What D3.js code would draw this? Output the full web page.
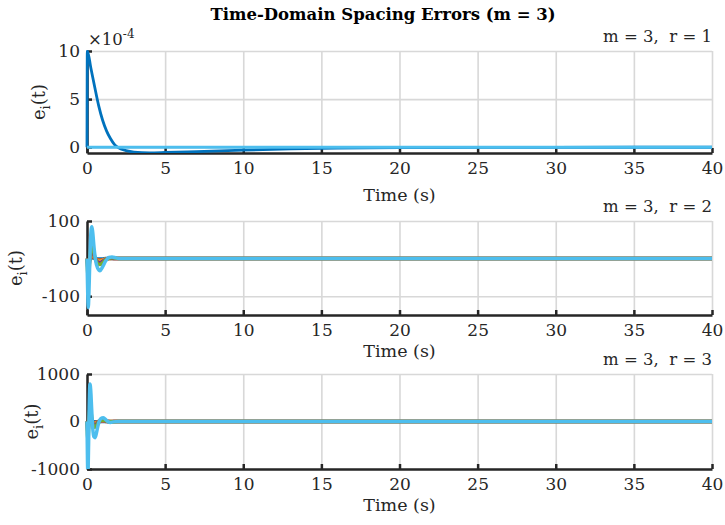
<!DOCTYPE html>
<html>
<head>
  <meta charset="utf-8">
  <title>Time-Domain Spacing Errors (m = 3)</title>
  <script src="https://d3js.org/d3.v7.min.js"></script>
  <style>
    body { margin: 0; background: #fff; }
    text { font-family: "DejaVu Serif", serif; fill: #262626; }
  </style>
</head>
<body>
<svg class="chart"></svg>
<script>

// ---- data ----
const xTicks = [0, 5, 10, 15, 20, 25, 30, 35, 40];
const colors = ["#0072BD", "#D95319", "#EDB120", "#7E2F8E", "#77AC30", "#4DBEEE"];

// r = 1, values in units of 1e-4
const time1 = [0, 0.02, 0.25, 0.5, 0.75, 1, 1.25, 1.5, 1.75, 2, 2.5, 3, 4, 5, 7, 10, 13, 16, 20, 25, 30, 40];
const r1Blue = [0, 10, 8.2, 6.2, 4.3, 2.8, 1.7, 0.9, 0.3, -0.05, -0.35, -0.5, -0.58, -0.55, -0.45, -0.3, -0.18, -0.1, -0.05, -0.02, -0.01, 0];
const r1Cyan = [0, 0, 0, 0, 0, 0, 0, 0, 0, 0, 0, 0, 0, 0, 0, 0, 0, 0, 0, 0, 0, 0];
const yTicks1 = [0, 5, 10];

// r = 2
const time2 = [0, 0.04, 0.08, 0.12, 0.17, 0.22, 0.27, 0.31, 0.36, 0.45, 0.55, 0.68, 0.83, 1.0, 1.2, 1.4, 1.6, 1.85, 2.1, 2.5, 3, 40];
const r2Blue   = [0, -2, -3, -2, 0, 1, 2, 2, 2, 1, 0, -1, -1, -1, 0, 0, 0, 0, 0, 0, 0, 0];
const r2Orange = [0, -6, -10, -7, -1, 4, 7, 8, 6, 2, -1, -3, -4, -3, -1, 0, 0, 0, 0, 0, 0, 0];
const r2Yellow = [0, -12, -20, -15, -3, 8, 14, 16, 13, 5, -1, -6, -7, -5, -1, 0, 1, 0, 0, 0, 0, 0];
const r2Purple = [0, -20, -32, -24, -5, 12, 22, 26, 22, 8, -2, -9, -11, -7, -2, 1, 1, 0, 0, 0, 0, 0];
const r2Green  = [0, -35, -55, -40, -8, 20, 35, 42, 35, 14, -3, -13, -16, -11, -3, 1, 2, 1, 0, 0, 0, 0];
const r2Cyan   = [0, -80, -130, -95, -20, 45, 78, 85, 72, 30, -5, -25, -32, -22, -6, 3, 4, 2, 0, 0, 0, 0];
const yTicks2 = [-100, 0, 100];

// r = 3
const time3 = [0, 0.03, 0.06, 0.1, 0.14, 0.19, 0.24, 0.3, 0.37, 0.44, 0.51, 0.6, 0.7, 0.82, 0.95, 1.05, 1.2, 1.35, 1.5, 1.7, 2.0, 2.5, 40];
const r3Blue   = [0, -16, -22, -10, 6, 16, 13, 5, -3, -6, -7, -5, -2, 1, 2, 2, 1, 0, 0, 0, 0, 0, 0];
const r3Orange = [0, -48, -66, -30, 18, 47, 39, 15, -9, -19, -20, -15, -5, 2, 5, 5, 2, 0, -1, 0, 0, 0, 0];
const r3Yellow = [0, -95, -130, -60, 36, 95, 78, 30, -18, -38, -41, -30, -11, 4, 9, 9, 5, -1, -2, -1, 0, 0, 0];
const r3Purple = [0, -160, -220, -100, 60, 160, 130, 50, -30, -64, -68, -50, -18, 6, 15, 16, 8, -1, -4, -2, 0, 0, 0];
const r3Green  = [0, -280, -390, -180, 100, 280, 230, 90, -50, -110, -120, -85, -30, 10, 26, 27, 14, -2, -7, -3, 0, 0, 0];
const r3Cyan   = [0, -800, -1100, -500, 300, 790, 650, 250, -150, -320, -340, -250, -90, 30, 75, 78, 40, -5, -20, -8, 0, 0, 0];
const yTicks3 = [-1000, 0, 1000];

// ---- layout ----
const W = 725, H = 525;
const left = 87, right = 712;

const panels = [
  { top: 51, bottom: 153, yDomain: [-0.6, 10], yTicks: yTicks1, time: time1,
    series: [[colors[0], r1Blue], [colors[5], r1Cyan]], lw: 2.8,
    sub: "m = 3,\u00a0\u00a0r = 1", labelX: 45, xlabOff: 48, exponent: true },
  { top: 221, bottom: 315, yDomain: [-150, 100], yTicks: yTicks2, time: time2,
    series: [[colors[0], r2Blue], [colors[1], r2Orange], [colors[2], r2Yellow],
             [colors[3], r2Purple], [colors[4], r2Green], [colors[5], r2Cyan]], lw: 3.5,
    sub: "m = 3,\u00a0\u00a0r = 2", labelX: 22, xlabOff: 42 },
  { top: 374, bottom: 469, yDomain: [-1000, 1000], yTicks: yTicks3, time: time3,
    series: [[colors[0], r3Blue], [colors[1], r3Orange], [colors[2], r3Yellow],
             [colors[3], r3Purple], [colors[4], r3Green], [colors[5], r3Cyan]], lw: 3.5,
    sub: "m = 3,\u00a0\u00a0r = 3", labelX: 38, xlabOff: 42 }
];

const svg = d3.select(".chart")
  .attr("width", W)
  .attr("height", H)
  .style("background", "#fff");

svg.append("text")
  .attr("x", 383)
  .attr("y", 20)
  .attr("text-anchor", "middle")
  .style("font-size", "16.5px")
  .style("font-weight", "bold")
  .style("fill", "#000")
  .text("Time-Domain Spacing Errors (m = 3)");

const x = d3.scaleLinear().domain([0, 40]).range([left, right]);

panels.forEach((p, i) => {
  const y = d3.scaleLinear().domain(p.yDomain).range([p.bottom, p.top]);
  const g = svg.append("g");
  const h = p.bottom - p.top;

  // grid
  g.append("g")
    .attr("transform", `translate(0,${p.bottom})`)
    .call(d3.axisBottom(x).tickValues(xTicks).tickSize(-h).tickFormat(""))
    .call(a => a.select(".domain").remove())
    .selectAll("line").attr("stroke", "#d8d8d8").attr("stroke-width", 1.6);
  g.append("g")
    .attr("transform", `translate(${left},0)`)
    .call(d3.axisLeft(y).tickValues(p.yTicks).tickSize(-(right - left)).tickFormat(""))
    .call(a => a.select(".domain").remove())
    .selectAll("line").attr("stroke", "#d8d8d8").attr("stroke-width", 1.6);

  // axes (ticks point inward)
  const xa = g.append("g")
    .attr("transform", `translate(0,${p.bottom})`)
    .call(d3.axisBottom(x).tickValues(xTicks).tickSizeInner(-5).tickSizeOuter(0).tickPadding(9)
      .tickFormat(d => String(d)));
  const ya = g.append("g")
    .attr("transform", `translate(${left},0)`)
    .call(d3.axisLeft(y).tickValues(p.yTicks).tickSizeInner(-5).tickSizeOuter(0).tickPadding(7)
      .tickFormat(d => String(d)));
  [xa, ya].forEach(a => {
    a.select(".domain").attr("stroke", "#262626").attr("stroke-width", 2.5);
    a.selectAll(".tick line").attr("stroke", "#262626").attr("stroke-width", 2.5);
    a.selectAll("text").style("font-size", "17px").style("font-family", "DejaVu Serif").attr("fill", "#262626");
  });

  // series
  g.append("clipPath").attr("id", "clip" + i)
    .append("rect")
    .attr("x", left - 2).attr("y", p.top - 1)
    .attr("width", right - left + 3).attr("height", h + 1);

  const line = d3.line()
    .x((d, k) => x(p.time[k]))
    .y(d => y(d))
    .curve(d3.curveMonotoneX);

  g.append("g").attr("clip-path", `url(#clip${i})`)
    .selectAll("path")
    .data(p.series)
    .join("path")
      .attr("d", d => line(d[1]))
      .attr("fill", "none")
      .attr("stroke", d => d[0])
      .attr("stroke-width", p.lw)
      .attr("stroke-linejoin", "round");

  // subtitle
  g.append("text")
    .attr("x", right)
    .attr("y", p.top - 9)
    .attr("text-anchor", "end")
    .style("font-size", "16.5px")
    .text(p.sub);

  // y label  e_i(t)
  const yl = g.append("text")
    .attr("transform", `translate(${p.labelX},${(p.top + p.bottom) / 2}) rotate(-90)`)
    .attr("text-anchor", "middle")
    .style("font-size", "18px");
  yl.append("tspan").text("e");
  yl.append("tspan").attr("dy", 5).style("font-size", "13px").text("i");
  yl.append("tspan").attr("dy", -5).text("(t)");

  // x label
  g.append("text")
    .attr("x", (left + right) / 2)
    .attr("y", p.bottom + p.xlabOff)
    .attr("text-anchor", "middle")
    .style("font-size", "17.5px")
    .text("Time (s)");

  if (p.exponent) {
    const ex = g.append("text")
      .attr("x", left + 1)
      .attr("y", p.top - 6)
      .style("font-size", "16.5px");
    ex.append("tspan").text("\u00d710");
    ex.append("tspan").attr("dy", -7).style("font-size", "12px").text("-4");
  }
});

</script>
</body>
</html>
